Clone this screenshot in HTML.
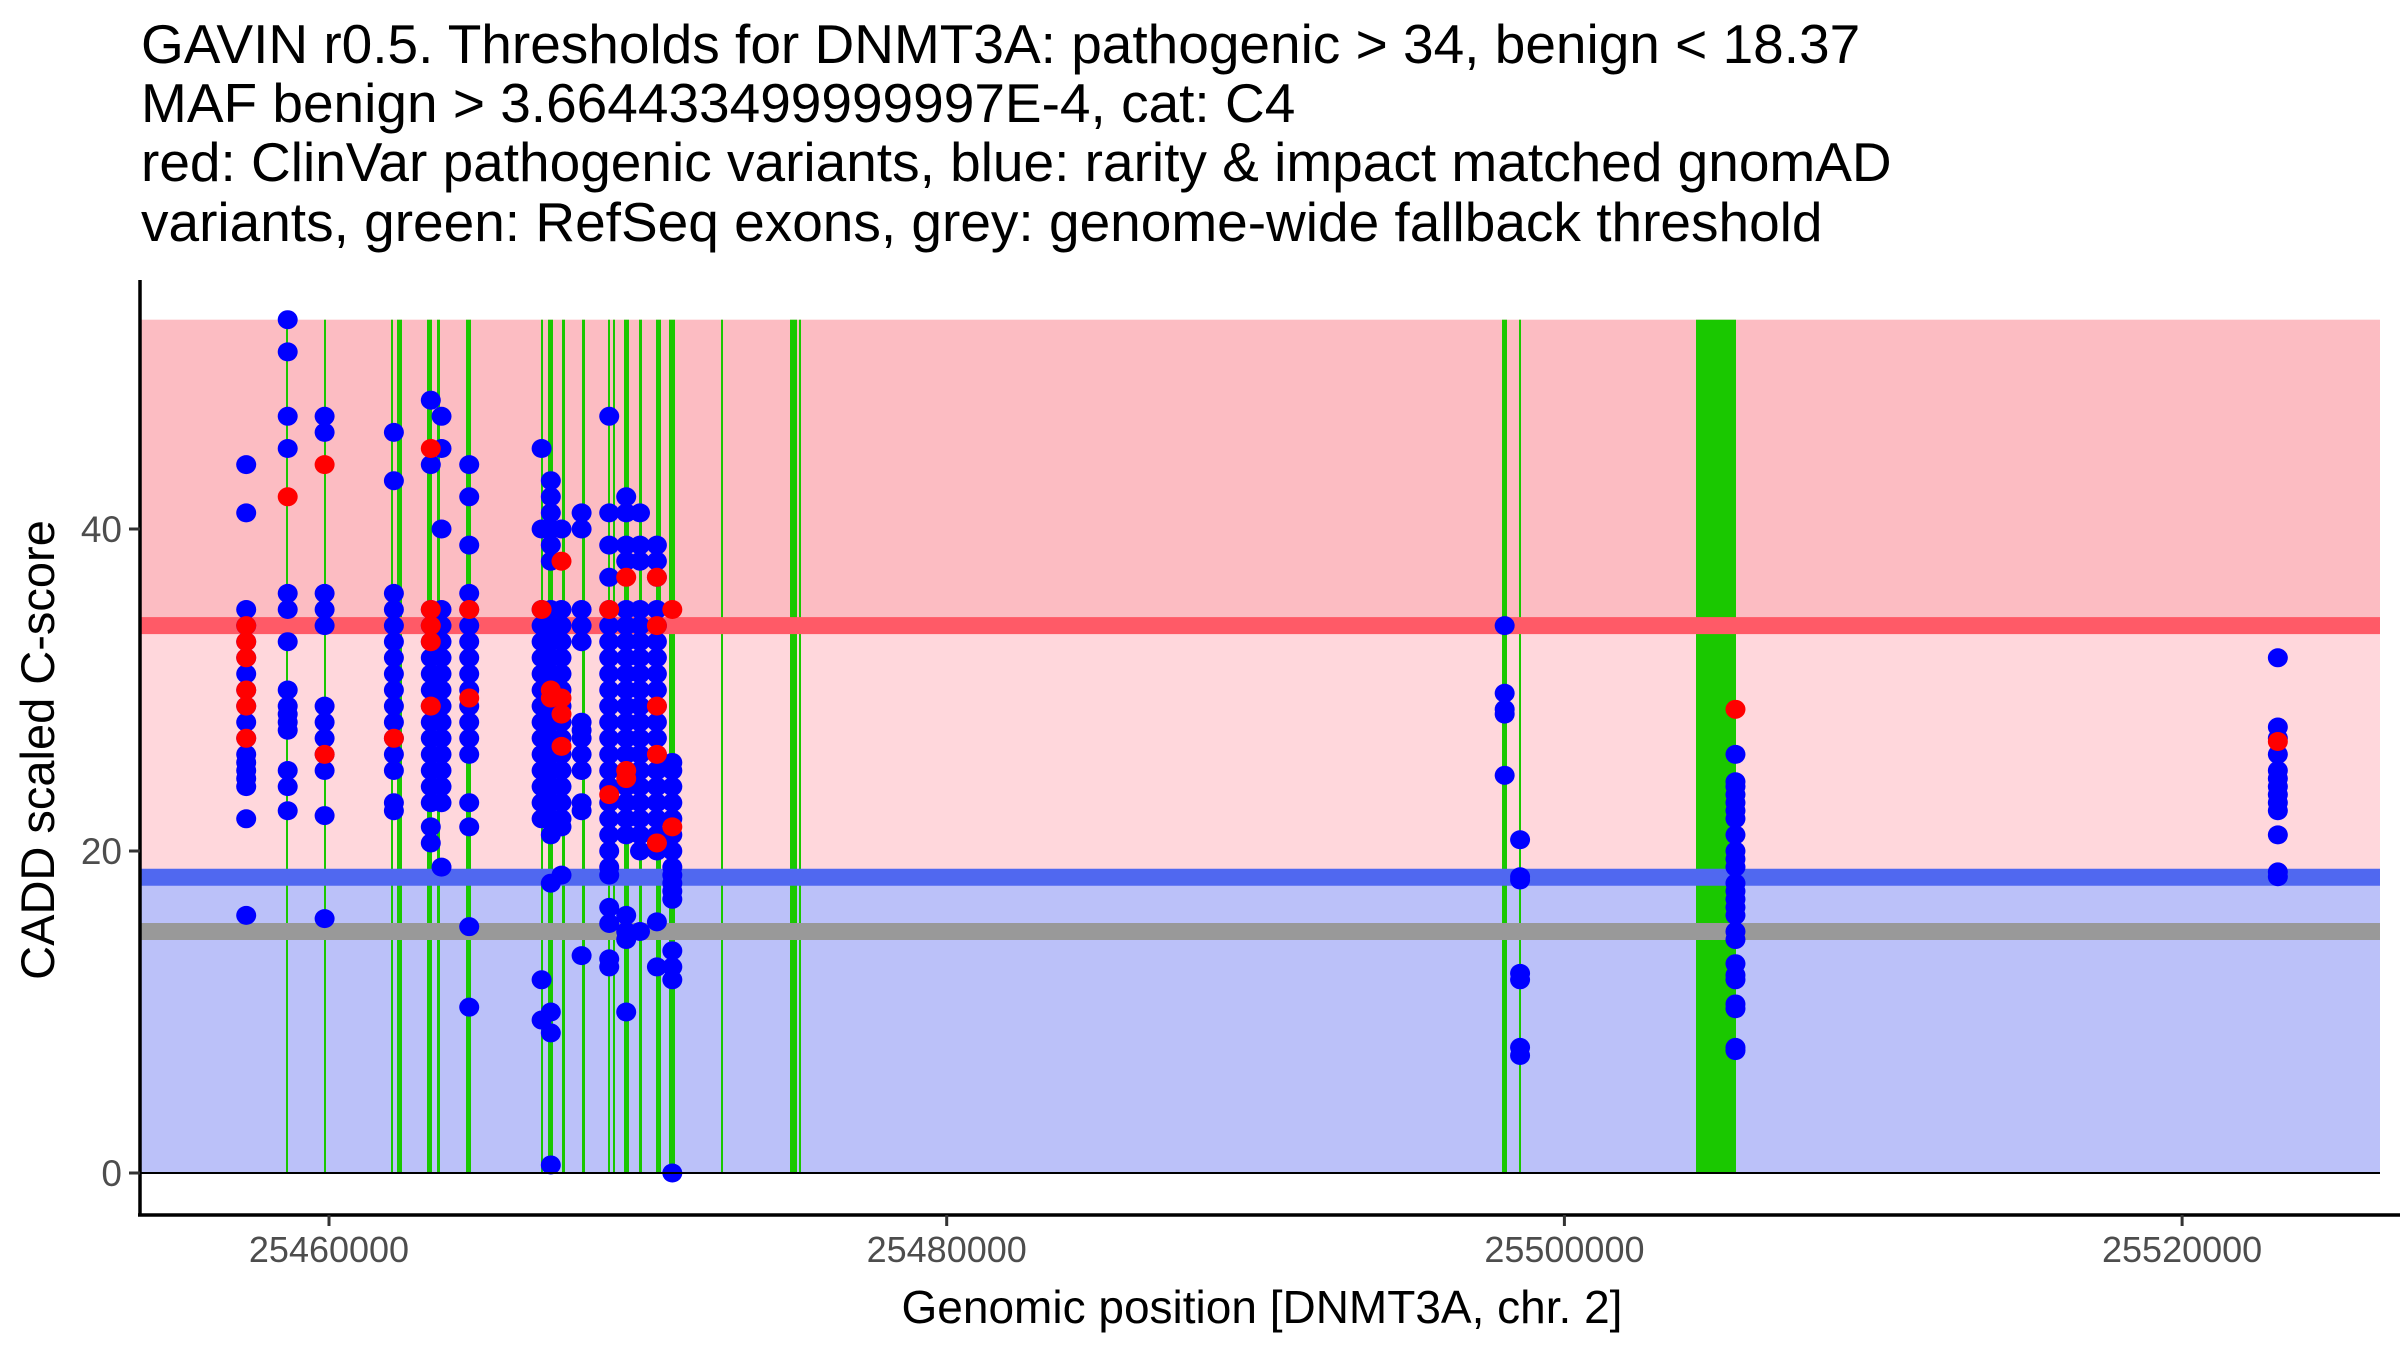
<!DOCTYPE html>
<html><head><meta charset="utf-8"><style>
body{margin:0;background:#fff}
svg{display:block;font-family:"Liberation Sans",Arial,sans-serif}
</style></head><body>
<svg id="chart" width="2400" height="1350" viewBox="0 0 2400 1350" xmlns="http://www.w3.org/2000/svg">
<g font-size="55" fill="#000">
<text x="141" y="63">GAVIN r0.5. Thresholds for DNMT3A: pathogenic &gt; 34, benign &lt; 18.37</text>
<text x="141" y="122">MAF benign &gt; 3.664433499999997E-4, cat: C4</text>
<text x="141" y="181">red: ClinVar pathogenic variants, blue: rarity &amp; impact matched gnomAD</text>
<text x="141" y="241">variants, green: RefSeq exons, grey: genome-wide fallback threshold</text>
</g>
<g id="bands"></g>
<g id="exons"></g>
<g id="lines"></g>
<g id="pts"></g>
<g id="axes"></g>
<text x="1262" y="1323" font-size="46" text-anchor="middle">Genomic position [DNMT3A, chr. 2]</text>
<text transform="translate(54,750) rotate(-90)" font-size="47" text-anchor="middle">CADD scaled C-score</text>
</svg>
<script>
const pathogenicThreshold = 34;
const benignThreshold = 18.37;
const fallbackThreshold = 15;
const scoreMax = 53;
const xTicks = [25460000, 25480000, 25500000, 25520000];
const yTicks = [0, 20, 40];
const exonStarts = [25458608,25459838,25462008,25462186,25463157,25463513,25464420,25466852,25467101,25467528,25468176,25469034,25469196,25469536,25470022,25470572,25471009,25472677,25474927,25474976,25475219,25497982,25498532,25504263];
const exonEnds   = [25458672,25459903,25462072,25462348,25463319,25463610,25464582,25466916,25467263,25467625,25468273,25469099,25469261,25469698,25470119,25470734,25471203,25472741,25474992,25475138,25475283,25498144,25498597,25505559];
const variantPositions = [25457319,25458663,25459858,25462101,25463296,25463643,25464540,25466884,25467182,25467528,25468179,25469073,25469623,25470070,25470617,25471116,25498066,25498565,25505539,25523100];
const benignScores = [
 [44,41,35,34,33,32,31,30,29,28,27,26,25.5,25,24.5,24,22,16],
 [53,51,47,45,36,35,33,30,29,28.5,28,27.5,25,24,22.5],
 [47,46,36,35,34,29,28,27,26,25,22.2,15.8],
 [46,43,36,35,34,33,32,31,30,29,28,27,26,25,23,22.5],
 [48,44,35,34,33,32,31,30,29,28,27,26,25,24,23,21.5,20.5],
 [47,45,40,35,34,33,32,31,30,29,28,27,26,25,24,23,19],
 [44,42,39,36,35,34,33,32,31,30,29,28,27,26,23,21.5,15.3,10.3],
 [45,40,35,34,33,32,31,30,29,28,27,26,25,24,23,22,12,9.5],
 [43,42,41,40,39,38,35,34,33,32,31,30,29,28,27,26,25,24,23,22,21,18,10,8.7,0.5],
 [40,35,34,33,32,31,30,29,28,27,26,25,24,23,22,21.5,18.5],
 [41,40,35,34,33,28,27.5,27,26,25,23,22.5,13.5],
 [47,41,39,37,35,34,33,32,31,30,29,28,27,26,25,24,23,22,21,20,19,18.5,16.5,15.5,13.3,12.8],
 [42,41,39,38,35,34,33,32,31,30,29,28,27,26,25,24,23,22,21,16,15,14.5,10],
 [41,39,38,35,34,33,32,31,30,29,28,27,26,25,24,23,22,21,20,15],
 [39,38,37,35,34,33,32,31,30,29,28,27,26,25,24,23,22,21,20,15.6,12.8],
 [25.5,25,24,23,22,21,20,19,18.5,18,17.5,17,13.8,12.8,12,0],
 [34,29.8,28.8,28.5,24.7],
 [20.7,18.4,18.2,12.4,12,7.8,7.3],
 [26,24.3,24,23.5,23,22.5,22,21,20,19.5,19,18,17.5,17,16.5,16,15,14.5,13,12.3,12,10.5,10.2,7.8,7.6],
 [32,27.7,27,26,25,24.5,24,23.5,23,22.5,21,18.7,18.4]
];
const pathogenicScores = [
 [34,33,32,30,29,27],[42],[44,26],[27],[45,35,34,33,29],[],[35,29.5],[35],[30,29.5],[38,28.5,26.5,29.5],[],[35,23.5],[37,24.5,25],[],[37,34,29,26,20.5],[35,21.5],[],[],[28.8],[26.8]
];
const NS='http://www.w3.org/2000/svg';
const X0=140,X1=2380,Y0=1173;
const xs=g=>329+(g-25460000)*617.7/20000;
const ys=v=>Y0-v*16.1;
function mk(parent,tag,attrs){const e=document.createElementNS(NS,tag);for(const k in attrs)e.setAttribute(k,attrs[k]);parent.appendChild(e);return e;}
const bands=document.getElementById('bands');
let r;
r=mk(bands,'rect',{x:X0,y:ys(scoreMax),width:X1-X0,height:ys(pathogenicThreshold)-ys(scoreMax),fill:'#FCBCC2'});


r=mk(bands,'rect',{x:X0,y:ys(pathogenicThreshold),width:X1-X0,height:ys(benignThreshold)-ys(pathogenicThreshold),fill:'#FFD7DC'});


r=mk(bands,'rect',{x:X0,y:ys(benignThreshold),width:X1-X0,height:ys(0)-ys(benignThreshold),fill:'#BBC1F9'});


const ex=document.getElementById('exons');
exonStarts.forEach((s,i)=>{const a=xs(s),b=xs(exonEnds[i]);const w=Math.max(2,b-a);
 const e=mk(ex,'rect',{x:Math.round((a+b)/2-w/2),y:ys(scoreMax),width:Math.round(w),height:ys(0)-ys(scoreMax),fill:'#1AC800'});
 
 
});
const ln=document.getElementById('lines');
[[pathogenicThreshold,'#FF5A67','pathogenic-threshold-line'],[benignThreshold,'#5068F0','benign-threshold-line'],[fallbackThreshold,'#999999','fallback-threshold-line']].forEach(t=>{
 const l=mk(ln,'rect',{x:X0,y:ys(t[0])-8.5,width:X1-X0,height:17,fill:t[1]});
 
 
});
const pts=document.getElementById('pts');
variantPositions.forEach((g,i)=>{benignScores[i].forEach(v=>{
 const c=mk(pts,'ellipse',{cx:xs(g),cy:ys(v),rx:10,ry:9.5,fill:'#0000FF'});
 
 
});});
variantPositions.forEach((g,i)=>{pathogenicScores[i].forEach(v=>{
 const c=mk(pts,'ellipse',{cx:xs(g),cy:ys(v),rx:10,ry:9.5,fill:'#FF0000'});
 
 
});});
const ax=document.getElementById('axes');
let a=mk(ax,'line',{x1:X0,y1:Y0,x2:X1,y2:Y0,stroke:'#000',"stroke-width":2});


a=mk(ax,'line',{x1:X0,y1:280,x2:X0,y2:1216,stroke:'#000',"stroke-width":3.5});


a=mk(ax,'line',{x1:X0-2,y1:1215,x2:X1+20,y2:1215,stroke:'#000',"stroke-width":3.5});


xTicks.forEach(t=>{
 const tk=mk(ax,'line',{x1:xs(t),y1:1215,x2:xs(t),y2:1226,stroke:'#333',"stroke-width":3});
 
 
 const tx=mk(ax,'text',{x:xs(t),y:1262,"font-size":36,fill:'#4d4d4d',"text-anchor":'middle'});
 tx.textContent=t;
 
 
});
yTicks.forEach(t=>{
 const tk=mk(ax,'line',{x1:X0-11,y1:ys(t),x2:X0,y2:ys(t),stroke:'#333',"stroke-width":3});
 
 
 const tx=mk(ax,'text',{x:X0-18,y:ys(t)+13,"font-size":37,fill:'#4d4d4d',"text-anchor":'end'});
 tx.textContent=t;
 
 
});
</script>
</body></html>
